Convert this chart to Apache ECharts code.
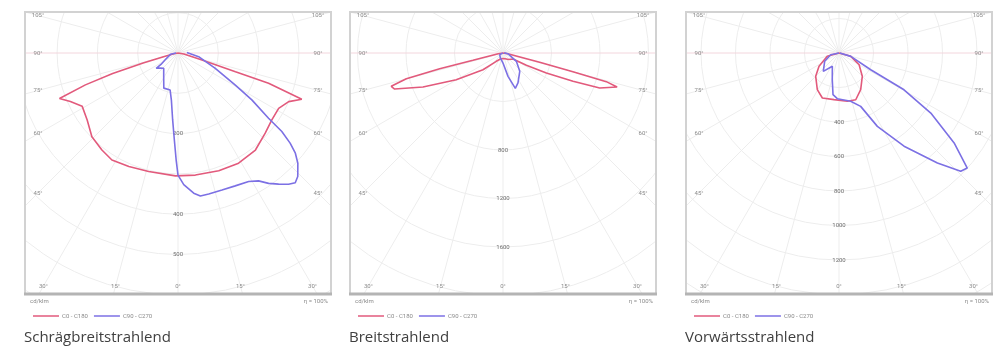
<!DOCTYPE html>
<html>
<head>
<meta charset="utf-8">
<script src="https://cdn.jsdelivr.net/npm/echarts@6/dist/echarts.min.js"></script>
<style>
  html, body { margin: 0; padding: 0; background: #fff; width: 1008px; height: 349px; overflow: hidden; }
  .panel { position: absolute; top: 0; width: 308px; height: 349px; }
</style>
</head>
<body>
<div id="p1" class="panel" style="left:24px"></div>
<div id="p2" class="panel" style="left:349px"></div>
<div id="p3" class="panel" style="left:685px"></div>
<script>
// Light distribution curves in polar form.
// Gamma angle in degrees: 0 = nadir, positive = left half of the diagram, negative = right half.
// Luminous intensity in cd/klm.
const seriesNames = ['C0 - C180', 'C90 - C270'];
const captions = ['Schrägbreitstrahlend', 'Breitstrahlend', 'Vorwärtsstrahlend'];
const angleTicks = [0, 15, 30, 45, 60, 75, 90, 105];
const unitText = 'cd/klm';
const efficiencyText = 'η = 100%';

// Schrägbreitstrahlend
const p1C0Angles = [90, 80, 76, 74, 72.5, 71, 69, 65.7, 61, 53.6, 45.8, 38.1, 31.7, 23.4, 13.9, 1.2, -8.1, -19.1, -28.8, -38.6, -47.4, -54.5, -61.2, -66.3, -69.5, -71.5, -71.9, -73.7, -80, -90];
const p1C0Values = [0, 10, 35, 90, 170, 243, 315, 293, 272, 280, 298, 306, 312, 307, 303, 305, 306, 309, 312, 308, 294, 286, 285, 300, 328, 237, 150, 62, 15, 0];
const p1C90Angles = [90, 80, 62, 56, 55, 50, 43, 30, 22, 12, 8, 4.6, 2.4, 1, 0, -2.5, -6.4, -8.9, -12.3, -17.8, -23.3, -28.8, -32.2, -34.8, -37.5, -40.1, -42.1, -44.1, -47.4, -49.5, -51.2, -52.9, -54.2, -57.6, -60.8, -67.7, -79.9, -94];
const p1C90Values = [5, 19, 36, 51, 66, 58, 52, 71, 94, 94, 118, 166, 216, 265, 303, 327, 350, 359, 358, 357, 359, 364, 375, 394, 410, 426, 434, 427, 404, 383, 357, 323, 277, 217, 163, 100, 52, 22];
const p1Step = 100;
const p1Max = 800;
const p1Labels = [200, 400, 500];

// Breitstrahlend
const p2C0Angles = [90, 82, 76.3, 76.1, 75.1, 73.4, 71.6, 67, 60.3, 50.1, 38.9, 20, 0, -20, -40, -59, -62.2, -65.2, -68, -70.1, -73.4, -74.5, -75, -75.8, -82, -90];
const p2C0Values = [0, 40, 255, 538, 825, 962, 942, 717, 444, 215, 88, 50, 45, 50, 70, 96, 218, 394, 623, 848, 982, 884, 597, 312, 40, 0];
const p2C90Angles = [90, 63, 30, 0, -12.1, -19.2, -26.6, -42.4, -58, -82, -95];
const p2C90Values = [0, 30, 45, 83, 197, 309, 276, 205, 130, 41, 10];
const p2Step = 400;
const p2Max = 2400;
const p2Labels = [800, 1200, 1600];

// Vorwärtsstrahlend
const p3C0Angles = [90, 74.2, 56.4, 45, 30.6, 20.3, 6.1, -9.8, -19.7, -30.6, -45, -59.7, -74.2, -90];
const p3C0Values = [0, 71, 139, 191, 247, 278, 272, 284, 288, 247, 191, 135, 71, 0];
const p3C90Angles = [90, 78.4, 59.9, 40.6, 26.7, 14.1, 8.2, 2.1, -13.6, -22.1, -27.6, -34.9, -41.8, -45.8, -48.1, -52, -56.8, -60.5, -62.2, -74, -90];
const p3C90Values = [0, 49, 96, 140, 86, 160, 244, 265, 288, 334, 480, 659, 856, 984, 999, 847, 636, 433, 208, 71, 5];
const p3Step = 200;
const p3Max = 1800;
const p3Labels = [400, 600, 800, 1000, 1200];

// ---- layout (pixels inside each panel) ----
const FRAME = { x: 1, y: 12, w: 306, h: 282 };
const CENTER = [154, 53];
const LABEL_BOX = { half: 140, down: 233, up: 40 };   // where the angle labels sit, measured from the origin
const RED = '#e25a7c';
const BLUE = '#7c70e4';
const GRID = '#ededed';
const GRID_90 = '#f3d6dd';
const FONT = 'Roboto, "DejaVu Sans", sans-serif';
const CAPTION_FONT = '"Open Sans", Roboto, sans-serif';

function angleValue(g) { return g < 0 ? 360 + g : g; }
function toPolar(angles, values) { return angles.map((g, i) => [values[i], angleValue(g)]); }

function angleLabelData(pxPerUnit) {
  const out = [];
  angleTicks.forEach(g => {
    const rad = g * Math.PI / 180;
    const s = Math.abs(Math.sin(rad)), c = Math.cos(rad);
    let t = Infinity;
    if (s > 1e-6) t = Math.min(t, LABEL_BOX.half / s);
    if (c > 1e-6) t = Math.min(t, LABEL_BOX.down / c);
    if (c < -1e-6) t = Math.min(t, LABEL_BOX.up / -c);
    const r = t / pxPerUnit;
    out.push({ name: g + '°', value: [r, g] });
    if (g !== 0) out.push({ name: g + '°', value: [r, angleValue(-g)] });
  });
  return out;
}

function buildOption(p) {
  const pxPerUnit = p.radius / p.max;
  const splitColors = [];
  for (let i = 0; i < 24; i++) splitColors.push(i % 12 === 6 ? GRID_90 : GRID);
  const small = { fontSize: 6, fontWeight: 'normal', color: '#8a8a8a', fontFamily: FONT };
  return {
    animation: false,
    textStyle: { fontFamily: FONT },
    polar: { center: CENTER, radius: p.radius },
    angleAxis: {
      type: 'value', min: 0, max: 360, interval: 15, startAngle: 270, clockwise: true,
      axisLine: { show: false }, axisTick: { show: false }, axisLabel: { show: false },
      splitLine: { show: true, lineStyle: { color: splitColors, width: 1 } }
    },
    radiusAxis: {
      type: 'value', min: 0, max: p.max, interval: p.step,
      axisLine: { show: false }, axisTick: { show: false },
      axisLabel: {
        show: true, margin: 0, align: 'center', verticalAlign: 'middle',
        fontSize: 6, color: '#6e6e6e',
        formatter: v => (p.labels.indexOf(v) >= 0 ? String(v) : '')
      },
      splitLine: { show: true, lineStyle: { color: GRID, width: 1 } }
    },
    title: [
      { text: unitText, left: 6, top: 298, padding: 0, z: 60, textStyle: small },
      { text: efficiencyText, right: 4, top: 298, padding: 0, z: 60, textStyle: small },
      { text: p.caption, left: 0, top: 330, padding: 0, z: 60, textStyle: { fontSize: 15, fontWeight: 'normal', color: '#404040', fontFamily: CAPTION_FONT } }
    ],
    legend: {
      data: seriesNames, left: 4, top: 308, icon: 'rect', itemWidth: 26, itemHeight: 1.5, itemGap: 6,
      textStyle: { fontSize: 6, color: '#8a8a8a', padding: [0, 0, 0, -2] }, z: 60
    },
    graphic: [
      { type: 'rect', z: 50, shape: { x: 0, y: 0, width: 308, height: FRAME.y }, style: { fill: '#fff' } },
      { type: 'rect', z: 50, shape: { x: 0, y: FRAME.y + FRAME.h, width: 308, height: 349 - FRAME.y - FRAME.h }, style: { fill: '#fff' } },
      { type: 'rect', z: 55, shape: { x: FRAME.x, y: FRAME.y, width: FRAME.w, height: FRAME.h }, style: { fill: 'none', stroke: '#d2d2d2', lineWidth: 2 } },
      { type: 'line', z: 56, shape: { x1: FRAME.x - 1, y1: FRAME.y + FRAME.h, x2: FRAME.x + FRAME.w + 1, y2: FRAME.y + FRAME.h }, style: { stroke: '#b4b4b4', lineWidth: 3 } }
    ],
    series: [
      { name: seriesNames[0], type: 'line', coordinateSystem: 'polar', symbol: 'none', data: toPolar(p.c0a, p.c0v), lineStyle: { color: RED, width: 1.6 }, itemStyle: { color: RED }, z: 5 },
      { name: seriesNames[1], type: 'line', coordinateSystem: 'polar', symbol: 'none', data: toPolar(p.c90a, p.c90v), lineStyle: { color: BLUE, width: 1.6 }, itemStyle: { color: BLUE }, z: 6 },
      {
        name: 'angles', type: 'scatter', coordinateSystem: 'polar', symbolSize: 1,
        itemStyle: { color: 'rgba(0,0,0,0)' }, silent: true,
        label: { show: true, position: 'inside', formatter: d => d.name, fontSize: 6, color: '#6e6e6e' },
        data: angleLabelData(pxPerUnit).map(d => ({ name: d.name, value: d.value })), z: 4
      }
    ]
  };
}

const panels = [
  { id: 'p1', caption: captions[0], c0a: p1C0Angles, c0v: p1C0Values, c90a: p1C90Angles, c90v: p1C90Values, step: p1Step, max: p1Max, labels: p1Labels, radius: 0.403 * p1Max },
  { id: 'p2', caption: captions[1], c0a: p2C0Angles, c0v: p2C0Values, c90a: p2C90Angles, c90v: p2C90Values, step: p2Step, max: p2Max, labels: p2Labels, radius: 0.12125 * p2Max },
  { id: 'p3', caption: captions[2], c0a: p3C0Angles, c0v: p3C0Values, c90a: p3C90Angles, c90v: p3C90Values, step: p3Step, max: p3Max, labels: p3Labels, radius: 0.1725 * p3Max }
];

panels.forEach(p => {
  const chart = echarts.init(document.getElementById(p.id), null, { renderer: 'canvas' });
  chart.setOption(buildOption(p));
});
</script>
</body>
</html>
